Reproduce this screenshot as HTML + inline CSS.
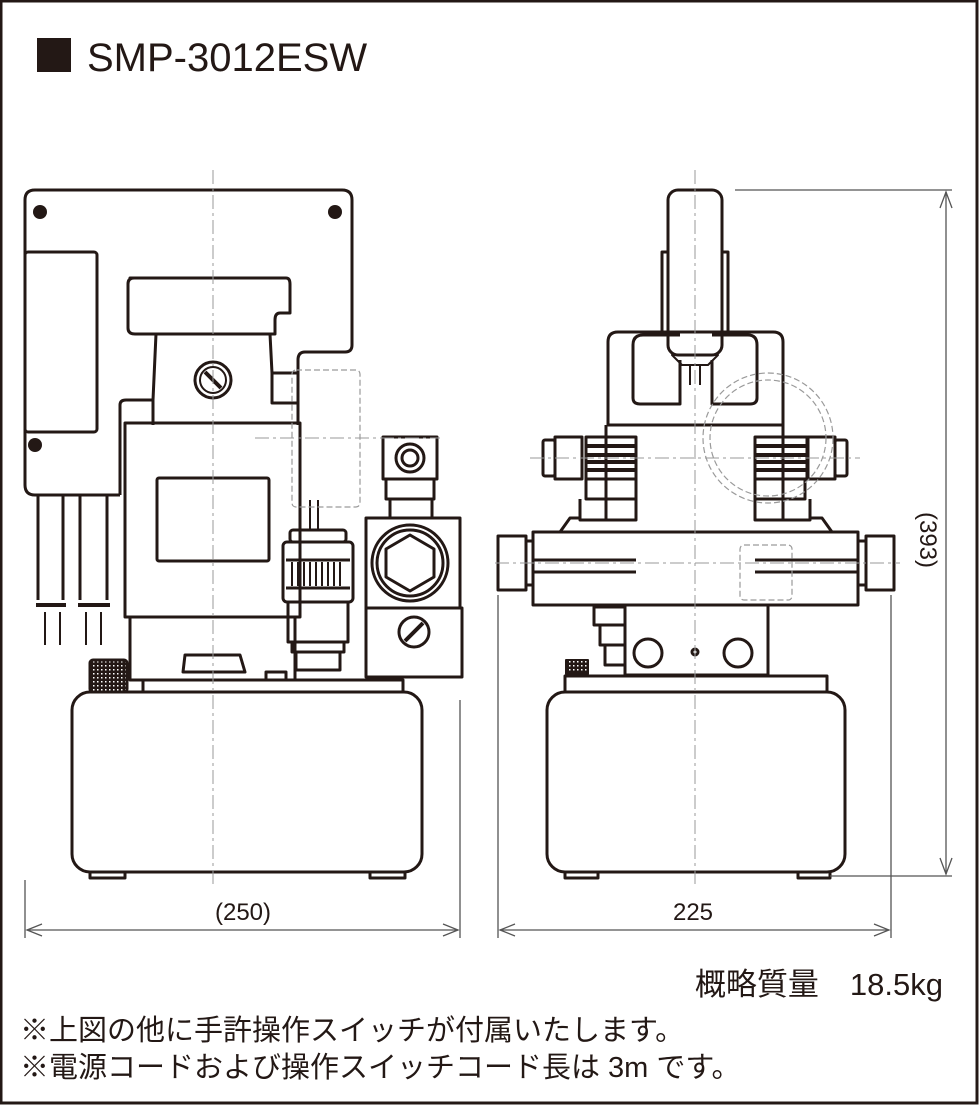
<!DOCTYPE html>
<html><head><meta charset="utf-8"><style>
html,body{margin:0;padding:0;background:#fff}
svg{display:block}
</style></head><body>
<svg width="979" height="1105" viewBox="0 0 979 1105" xmlns="http://www.w3.org/2000/svg">
<defs>
<pattern id="dots" width="4" height="4" patternUnits="userSpaceOnUse"><rect width="4" height="4" fill="#231815"/><rect x="1" y="1" width="1.5" height="1.5" fill="#fff"/></pattern>
</defs>
<rect x="1" y="1" width="976" height="1102" fill="none" stroke="#231815" stroke-width="3"/>
<rect x="37" y="38" width="34" height="34" fill="#231815"/>
<text x="87" y="71" font-family="Liberation Sans, sans-serif" font-size="40" fill="#231815">SMP-3012ESW</text>

<g fill="none" stroke="#231815" stroke-width="3" stroke-linejoin="round">
<!-- LEFT VIEW -->
<path d="M120,495 L35,495 Q25,495 25,485 L25,200 Q25,190 35,190 L342,190 Q352,190 352,200 L352,345 Q352,352 345,352 L305,352 Q298,352 298,360 L298,425"/>
<path d="M120,495 Q120,495 120,490 L120,405 Q120,400 126,400 L152,400"/>
<rect x="25" y="252" width="72" height="180" rx="3"/>
<path d="M130,278 L286,278 Q290,278 290,284 L290,313 L280,313 Q275,313 275,320 L275,334 L135,334 Q128,334 128,328 L128,284 Q128,278 134,278Z"/>
<path d="M156,334 L153,400 L153,425 M270,334 L272,373 L298,373 M272,373 L272,403 L298,403"/>
<rect x="125" y="423" width="175" height="194"/>
<rect x="157" y="478" width="112" height="83" rx="2"/>
<rect x="130" y="617" width="165" height="63"/>
<circle cx="213" cy="380" r="18"/><circle cx="213" cy="380" r="13" stroke-width="2"/>
<line x1="205" y1="372" x2="221" y2="388" stroke-width="4"/>
<path d="M38,495 L38,600 M63,495 L63,600 M80,495 L80,600 M107,495 L107,600"/>
<path d="M36,605 L66,605 M78,605 L110,605" stroke-width="4"/>
<path d="M45,612 L45,645 M60,612 L60,645 M86,612 L86,645 M101,612 L101,645" stroke-width="2"/>
<rect x="72" y="692" width="350" height="180" rx="18"/>
<rect x="143" y="680" width="260" height="12"/>
<path d="M90,872 L90,878 L125,878 L125,872 M370,872 L370,878 L405,878 L405,872"/>
<rect x="90" y="660" width="37" height="32" rx="3" fill="url(#dots)"/>
<path d="M183,672 L185,655 L240,655 L245,672 Z"/>
<rect x="266" y="672" width="20" height="8"/>
<rect x="290" y="530" width="56" height="12" rx="3"/>
<rect x="283" y="542" width="70" height="60" rx="4"/>
<path d="M286,560 L350,560 M286,588 L350,588"/>
<path d="M292,562 L292,586 M298,562 L298,586 M304,562 L304,586 M310,562 L310,586 M316,562 L316,586 M322,562 L322,586 M328,562 L328,586 M334,562 L334,586 M340,562 L340,586" stroke-width="2"/>
<rect x="288" y="602" width="60" height="40"/>
<rect x="292" y="642" width="52" height="10"/>
<rect x="296" y="652" width="44" height="18"/>
<path d="M310,530 L310,500 M318,530 L318,500" stroke-width="2"/>
<rect x="383" y="437" width="54" height="42"/>
<circle cx="410" cy="458" r="14"/><circle cx="410" cy="458" r="8"/>
<rect x="386" y="479" width="48" height="20"/>
<path d="M390,499 L390,518 M432,499 L432,518"/>
<rect x="366" y="518" width="94" height="90"/>
<circle cx="410" cy="563" r="38"/><circle cx="410" cy="563" r="33"/>
<path d="M410,535 L434,549 L434,577 L410,591 L386,577 L386,549Z"/>
<rect x="366" y="608" width="96" height="69"/>
<circle cx="414" cy="632" r="15"/>
<line x1="405" y1="641" x2="423" y2="623" stroke-width="4"/>

<!-- RIGHT VIEW -->
<rect x="668" y="190" width="54" height="165" rx="10"/>
<path d="M668,252 L662,252 L662,335 M722,252 L728,252 L728,335"/>
<path d="M618,332 L773,332 Q783,332 783,342 L783,425 L608,425 L608,342 Q608,332 618,332Z"/>
<path d="M680,335 L643,335 Q633,335 633,345 L633,398 Q633,404 640,404 L680,404 L680,360"/>
<path d="M712,360 L712,404 L750,404 Q757,404 757,398 L757,345 Q757,335 748,335 L712,335"/>
<path d="M672,355 L718,355 L708,365 L682,365Z" stroke-width="2"/>
<path d="M690,365 L690,385 M700,365 L700,385" stroke-width="2"/>
<path d="M606,425 L606,520 M783,425 L783,520"/>
<rect x="543" y="440" width="12" height="36" rx="2"/>
<rect x="555" y="437" width="27" height="42"/>
<rect x="586" y="437" width="50" height="42"/>
<path d="M586,446 L636,446 M586,455 L636,455 M586,462 L636,462 M586,470 L636,470" stroke-width="4"/>
<rect x="586" y="479" width="50" height="20"/>
<rect x="835" y="440" width="12" height="36" rx="2"/>
<rect x="808" y="437" width="27" height="42"/>
<rect x="755" y="437" width="52" height="42"/>
<path d="M755,446 L807,446 M755,455 L807,455 M755,462 L807,462 M755,470 L807,470" stroke-width="4"/>
<rect x="755" y="479" width="50" height="20"/>
<path d="M580,499 L580,520 L636,520 L636,499 M755,499 L755,520 L810,520 L810,499"/>
<path d="M560,532 L570,518 L580,518 M810,518 L822,518 L832,532"/>
<rect x="533" y="532" width="325" height="73"/>
<path d="M533,560 L636,560 M533,572 L636,572 M755,560 L858,560 M755,572 L858,572"/>
<rect x="498" y="536" width="28" height="54"/><rect x="526" y="541" width="7" height="44"/>
<rect x="866" y="536" width="28" height="54"/><rect x="858" y="541" width="8" height="44"/>
<rect x="625" y="605" width="143" height="70"/>
<circle cx="648" cy="653" r="14"/><circle cx="738" cy="653" r="14"/><circle cx="695" cy="652" r="3"/>
<rect x="594" y="607" width="31" height="18"/><rect x="600" y="625" width="25" height="20"/><rect x="605" y="645" width="20" height="20"/>
<rect x="547" y="692" width="298" height="180" rx="18"/>
<rect x="565" y="676" width="262" height="16"/>
<rect x="566" y="660" width="22" height="14" fill="url(#dots)" stroke-width="2"/>
<path d="M565,872 L565,878 L598,878 L598,872 M798,872 L798,878 L830,878 L830,872"/>
</g>
<g fill="#231815">
<circle cx="40" cy="212" r="7"/><circle cx="335" cy="212" r="7"/><circle cx="35" cy="445" r="7"/>
</g>

<!-- center / hidden lines -->
<g fill="none" stroke="#9a9a9a" stroke-width="1" stroke-dasharray="14,4,3,4">
<line x1="213" y1="170" x2="213" y2="885"/>
<line x1="695" y1="170" x2="695" y2="885"/>
<line x1="255" y1="438" x2="440" y2="438"/>
<line x1="495" y1="563" x2="900" y2="563"/>
<line x1="530" y1="458" x2="860" y2="458"/>
</g>
<g fill="none" stroke="#9a9a9a" stroke-width="1.2" stroke-dasharray="6,3">
<rect x="292" y="370" width="68" height="137" rx="4"/>
<circle cx="768" cy="438" r="65"/><circle cx="768" cy="438" r="58"/>
<rect x="740" y="545" width="52" height="55" rx="4"/>
</g>

<!-- dimensions -->
<g fill="none" stroke="#555" stroke-width="1.3">
<line x1="735" y1="190" x2="952" y2="190"/>
<line x1="830" y1="876" x2="952" y2="876"/>
<line x1="946" y1="192" x2="946" y2="874"/>
<path d="M940,208 L946,192 L952,208 M940,858 L946,874 L952,858"/>
<line x1="25" y1="880" x2="25" y2="938"/>
<line x1="460" y1="700" x2="460" y2="938"/>
<line x1="27" y1="930" x2="458" y2="930"/>
<path d="M42,924 L27,930 L42,936 M443,924 L458,930 L443,936"/>
<line x1="498" y1="595" x2="498" y2="938"/>
<line x1="891" y1="595" x2="891" y2="938"/>
<line x1="500" y1="930" x2="889" y2="930"/>
<path d="M515,924 L500,930 L515,936 M874,924 L889,930 L874,936"/>
</g>
<g font-family="Liberation Sans, 'Noto Sans CJK JP', sans-serif" fill="#231815">
<text x="243" y="920" font-size="24" text-anchor="middle">(250)</text>
<text x="693" y="920" font-size="24" text-anchor="middle">225</text>
<text transform="translate(920,540) rotate(90)" font-size="24" text-anchor="middle">(393)</text>
<text x="943" y="995" font-size="31" text-anchor="end">概略質量　18.5kg</text>
<text x="20" y="1040" font-size="29">※上図の他に手許操作スイッチが付属いたします。</text>
<text x="20" y="1077" font-size="29">※電源コードおよび操作スイッチコード長は 3m です。</text>
</g>
</svg>
</body></html>
